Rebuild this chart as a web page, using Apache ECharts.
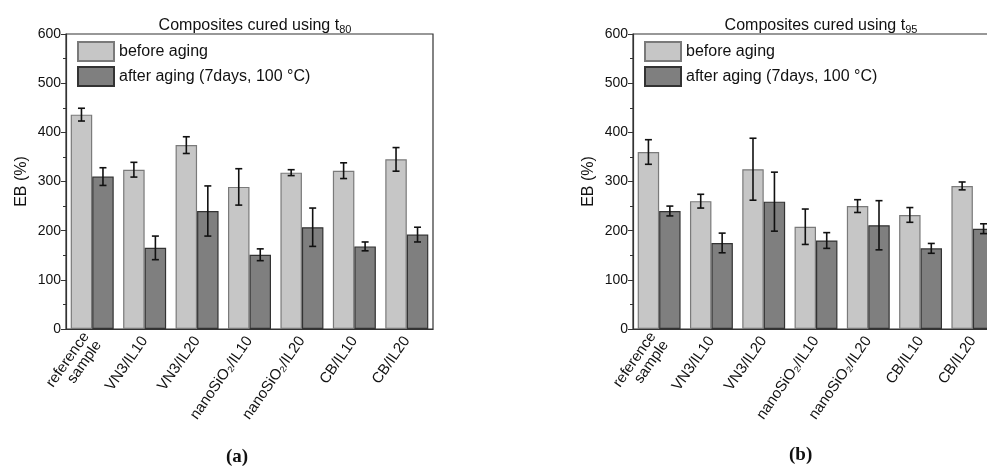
<!DOCTYPE html>
<html>
<head>
<meta charset="utf-8">
<script src="https://cdn.jsdelivr.net/npm/echarts@6/dist/echarts.min.js"></script>
<style>
  html, body { margin: 0; padding: 0; background: #fff; }
  #main { width: 987px; height: 473px; }
</style>
</head>
<body>
<div id="main"></div>
<script>
// 数据
var categories = ['reference\nsample', 'VN3/IL10', 'VN3/IL20', 'nanoSiO\u2082/IL10', 'nanoSiO\u2082/IL20', 'CB/IL10', 'CB/IL20'];
var seriesNames = ['before aging', 'after aging (7days, 100 \u00B0C)'];

var t80Before = [436, 324, 374, 289, 318, 322, 345];
var t80BeforeErr = [13, 15, 17, 37, 6, 16, 24];
var t80After = [310, 165, 240, 151, 207, 168, 192];
var t80AfterErr = [18, 24, 51, 12, 39, 9, 15];

var t95Before = [360, 260, 325, 208, 250, 232, 291];
var t95BeforeErr = [25, 14, 63, 36, 13, 15, 8];
var t95After = [240, 175, 259, 180, 211, 164, 204];
var t95AfterErr = [10, 20, 60, 16, 50, 10, 10];

var yTicks = { min: 0, max: 600, interval: 100 };

var chart = echarts.init(document.getElementById('main'));

var barGapCat = 0.18;
var beforeStyle = { color: '#c6c6c6', borderColor: '#7a7a7a', borderWidth: 1.2 };
var afterStyle = { color: '#7f7f7f', borderColor: '#333333', borderWidth: 1.2 };
var font = 'Liberation Sans, Arial';

// 误差棒
function errData(vals, errs) {
    return vals.map(function (v, i) { return [i, v, errs[i]]; });
}
function errSeries(idx, vals, errs, side) {
    return {
        type: 'custom',
        xAxisIndex: idx,
        yAxisIndex: idx,
        z: 10,
        silent: true,
        data: errData(vals, errs),
        renderItem: function (params, api) {
            var x = api.value(0), v = api.value(1), e = api.value(2);
            var band = api.size([1, 0])[0];
            var off = side * band * (1 - barGapCat) / 4;
            var top = api.coord([x, v + e]);
            var bot = api.coord([x, v - e]);
            var cx = top[0] + off;
            var cap = 3.5;
            var st = { stroke: '#111', lineWidth: 1.6 };
            return {
                type: 'group',
                children: [
                    { type: 'line', shape: { x1: cx, y1: top[1], x2: cx, y2: bot[1] }, style: st },
                    { type: 'line', shape: { x1: cx - cap, y1: top[1], x2: cx + cap, y2: top[1] }, style: st },
                    { type: 'line', shape: { x1: cx - cap, y1: bot[1], x2: cx + cap, y2: bot[1] }, style: st }
                ]
            };
        }
    };
}

function xAxis(idx) {
    return {
        type: 'category',
        gridIndex: idx,
        data: categories,
        axisLine: { lineStyle: { color: '#333', width: 1.2 } },
        axisTick: { show: false },
        axisLabel: { interval: 0, rotate: 55, fontSize: 15, color: '#111', margin: 9, fontFamily: font }
    };
}
function yAxis(idx) {
    return {
        type: 'value',
        gridIndex: idx,
        min: yTicks.min,
        max: yTicks.max,
        interval: yTicks.interval,
        name: 'EB (%)',
        nameLocation: 'middle',
        nameGap: 36,
        nameTextStyle: { fontSize: 16, color: '#111', fontFamily: font },
        axisLine: { show: true, lineStyle: { color: '#333', width: 1.2 } },
        axisTick: { show: true, length: 5, lineStyle: { color: '#333' } },
        minorTick: { show: true, splitNumber: 2, length: 3, lineStyle: { color: '#333' } },
        splitLine: { show: false },
        axisLabel: { fontSize: 14, color: '#111', margin: 5, fontFamily: font }
    };
}
function barSeries(idx, name, vals, style) {
    return {
        type: 'bar',
        name: name,
        xAxisIndex: idx,
        yAxisIndex: idx,
        data: vals,
        barGap: '0%',
        barCategoryGap: (barGapCat * 100) + '%',
        itemStyle: style
    };
}
function titleText(x, sub) {
    return {
        text: '{a|Composites cured using t}{b|' + sub + '}',
        left: x,
        top: 11,
        textAlign: 'center',
        textStyle: {
            fontWeight: 'normal',
            rich: {
                a: { fontSize: 16, fontWeight: 'normal', color: '#111', lineHeight: 19, fontFamily: font },
                b: { fontSize: 11, fontWeight: 'normal', color: '#111', lineHeight: 6, verticalAlign: 'bottom', fontFamily: font }
            }
        }
    };
}
function legendAt(x) {
    return {
        orient: 'vertical',
        left: x,
        top: 41,
        padding: 0,
        itemWidth: 36,
        itemHeight: 19,
        itemGap: 4,
        icon: 'rect',
        selectedMode: false,
        data: seriesNames,
        textStyle: { fontSize: 16, color: '#111', fontFamily: font }
    };
}

var option = {
    backgroundColor: '#fff',
    animation: false,
    title: [titleText(250, '80'), titleText(816, '95')],
    legend: [legendAt(77), legendAt(644)],
    grid: [
        { left: 66, top: 34, width: 367, height: 295, show: true, borderColor: '#333', borderWidth: 1.2, outerBoundsMode: 'none' },
        { left: 633, top: 34, width: 366, height: 295, show: true, borderColor: '#333', borderWidth: 1.2, outerBoundsMode: 'none' }
    ],
    xAxis: [xAxis(0), xAxis(1)],
    yAxis: [yAxis(0), yAxis(1)],
    series: [
        barSeries(0, seriesNames[0], t80Before, beforeStyle),
        barSeries(0, seriesNames[1], t80After, afterStyle),
        barSeries(1, seriesNames[0], t95Before, beforeStyle),
        barSeries(1, seriesNames[1], t95After, afterStyle),
        errSeries(0, t80Before, t80BeforeErr, -1),
        errSeries(0, t80After, t80AfterErr, 1),
        errSeries(1, t95Before, t95BeforeErr, -1),
        errSeries(1, t95After, t95AfterErr, 1)
    ],
    graphic: [
        { type: 'text', left: 226, top: 448, style: { text: '(a)', font: 'bold 19px "Liberation Serif", serif', fill: '#111' } },
        { type: 'text', left: 789, top: 446, style: { text: '(b)', font: 'bold 19px "Liberation Serif", serif', fill: '#111' } }
    ]
};

chart.setOption(option);
</script>
</body>
</html>
